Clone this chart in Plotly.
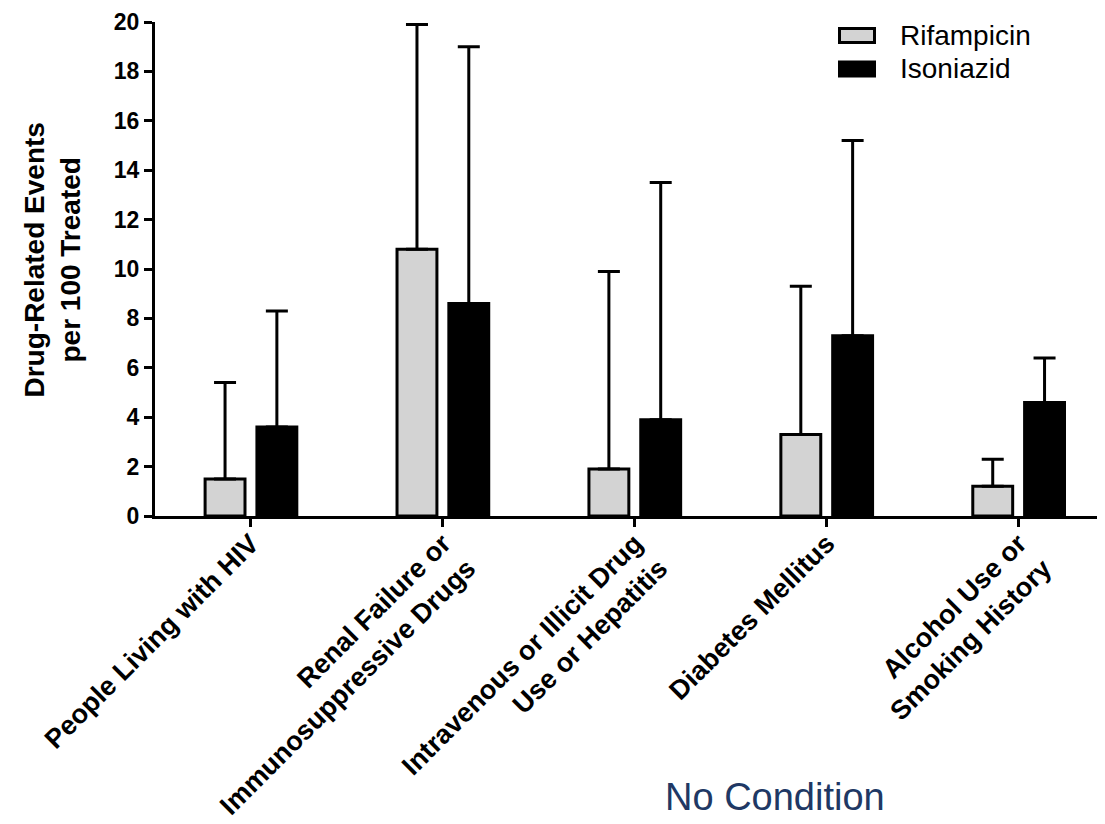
import plotly.graph_objects as go

categories = [
    "People Living with HIV",
    "Renal Failure or<br>Immunosuppressive Drugs",
    "Intravenous or Illicit Drug<br>Use or Hepatitis",
    "Diabetes Mellitus",
    "Alcohol Use or<br>Smoking History",
]
rif_mean = [1.5, 10.8, 1.9, 3.3, 1.2]
rif_upper = [5.4, 19.9, 9.9, 9.3, 2.3]
iso_mean = [3.6, 8.6, 3.9, 7.3, 4.6]
iso_upper = [8.3, 19.0, 13.5, 15.2, 6.4]
series_names = ["Rifampicin", "Isoniazid"]
series_fill = ["#d3d3d3", "black"]

rif_err = [u - m for u, m in zip(rif_upper, rif_mean)]
iso_err = [u - m for u, m in zip(iso_upper, iso_mean)]
zeros = [0] * len(categories)

FONT = "Liberation Sans, Arial, Helvetica, sans-serif"

fig = go.Figure()
for name, fill, means, errs in zip(series_names, series_fill,
                                   [rif_mean, iso_mean], [rif_err, iso_err]):
    fig.add_trace(go.Bar(
        name=name, x=categories, y=means,
        marker=dict(color=fill, line=dict(color="black", width=3)),
        error_y=dict(type="data", symmetric=False, array=errs, arrayminus=zeros,
                     color="black", thickness=3, width=11),
        showlegend=False,
    ))

# page body has an 8px margin; geometry below is in screen pixels
OFF = 8
W, H = 1097, 816
L, R, T, B = 147, 0, 14, 308
pw, ph = W - L - R, H - T - B
def px(x):
    return (x - OFF - L) / pw
def py(y):
    return (OFF + T + ph - y) / ph

shapes = []
annotations = []
legend_rows = [35.5, 69.0]
for name, fill, yc in zip(series_names, series_fill, legend_rows):
    shapes.append(dict(type="rect", xref="paper", yref="paper",
                       x0=px(839.5), x1=px(874.5), y0=py(yc + 7), y1=py(yc - 7),
                       fillcolor=fill, line=dict(color="black", width=3)))
    annotations.append(dict(text=name, xref="paper", yref="paper",
                            x=px(898), y=py(yc), xanchor="left", yanchor="middle",
                            showarrow=False,
                            font=dict(size=28, family=FONT, color="black")))

annotations.append(dict(
    text="Drug-Related Events<br>per 100 Treated", xref="paper", yref="paper",
    x=px(51.5), y=py(260), xanchor="center", yanchor="middle", textangle=-90,
    showarrow=False, font=dict(size=28, family=FONT, color="black", weight="bold"),
))
annotations.append(dict(
    text="No Condition", xref="paper", yref="paper",
    x=px(775), y=py(797), xanchor="center", yanchor="middle",
    showarrow=False, font=dict(size=38, family=FONT, color="#203864"),
))

fig.update_layout(
    width=W, height=H,
    margin=dict(l=L, r=R, t=T, b=B, autoexpand=False),
    paper_bgcolor="white", plot_bgcolor="white",
    barmode="group", bargap=0.46, bargroupgap=0.23,
    font=dict(family=FONT, color="black"),
    showlegend=False,
    shapes=shapes,
    annotations=annotations,
)
fig.update_xaxes(
    range=[-0.5, 4.45], showline=True, linecolor="black", linewidth=3,
    ticks="outside", ticklen=8, tickwidth=3, tickcolor="black",
    tickangle=-45, ticklabelstandoff=-10,
    tickfont=dict(size=27, family=FONT, color="black", weight="bold"),
    showgrid=False, zeroline=False, automargin=False,
)
fig.update_yaxes(
    range=[0, 20], dtick=2, showline=True, linecolor="black", linewidth=3,
    ticks="outside", ticklen=8, tickwidth=3, tickcolor="black",
    tickfont=dict(size=23, family=FONT, color="black", weight="bold"),
    showgrid=False, zeroline=False, automargin=False,
)

fig.write_html("out.html")
